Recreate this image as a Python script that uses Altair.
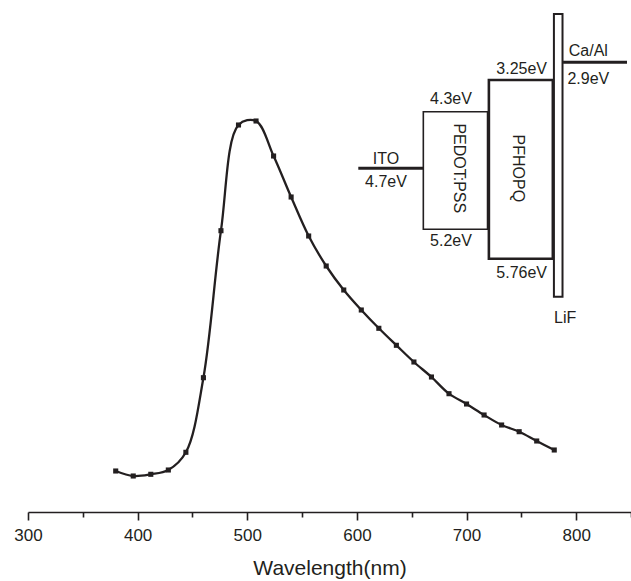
import altair as alt
import pandas as pd

# ---------------- spectrum data ----------------
wavelength = [380, 396, 412, 428, 444, 460, 476, 492, 508, 524, 540, 556, 572,
              588, 604, 620, 636, 652, 668, 684, 700, 716, 732, 748, 764, 780]
intensity = [41, 36, 37.7, 42, 59.7, 134.3, 281.3, 387, 391, 356, 315, 276, 246,
             222, 202, 183.7, 166.7, 150, 135, 118.3, 108, 97, 87, 80.3, 71, 62]

# ---------------- inset energy-level diagram ----------------
layer_names = ["ITO", "PEDOT:PSS", "PFHOPQ", "LiF", "Ca/Al"]
upper_level = [4.7, 4.3, 3.25, 2.5, 2.9]     # eV (LiF drawn schematically)
lower_level = [4.7, 5.2, 5.76, 6.2, 2.9]     # eV
level_text_upper = ["ITO", "4.3eV", "3.25eV", "", "Ca/Al"]
level_text_lower = ["4.7eV", "5.2eV", "5.76eV", "LiF", "2.9eV"]

# schematic diagram layout (0-100 diagram units across the inset)
layer_left = [0, 24.2, 48.6, 72.8, 76.2]
layer_right = [24.2, 48.1, 72.4, 76.0, 100]
label_center = [10.3, 34.5, 60.8, 77.0, 85.6]
upper_off = [-9, -13, -11, 0, -11]
lower_off = [14, 12, 14, 21, 17]
box_stroke = [3, 1.6, 2.6, 2, 3]

INK = "#231f20"
FONT = "Liberation Sans"

spec_df = pd.DataFrame({"wavelength": wavelength, "intensity": intensity})

layers_df = pd.DataFrame({
    "name": layer_names, "e1": upper_level, "e2": lower_level,
    "x": layer_left, "x2": layer_right, "sw": box_stroke,
})
lines_df = layers_df[layers_df["e1"] == layers_df["e2"]]
boxes_df = layers_df[layers_df["e1"] != layers_df["e2"]]

rot_df = pd.DataFrame({
    "x": [37.3, 59.3],
    "e": [4.7, 4.7],
    "t": ["PEDOT:PSS", "PFHOPQ"],
})

xscale_main = alt.Scale(domain=[300, 850], nice=False, zero=False)
yscale_main = alt.Scale(domain=[0, 512], nice=False, zero=False)

x_axis = alt.Axis(
    values=list(range(300, 851, 50)),
    labelExpr="datum.value % 100 === 0 ? datum.label : ''",
    tickSize={"condition": {"test": "datum.value % 100 === 0", "value": 8}, "value": 5},
    title="Wavelength(nm)",
    titleFont=FONT, titleFontSize=21, titleFontWeight="normal", titleColor=INK,
    labelFont=FONT, labelFontSize=17, labelColor=INK,
    domain=True, domainColor=INK, domainWidth=1.6, tickColor=INK, tickWidth=1.6,
    labelPadding=7, titlePadding=14, grid=False, labelFlush=False,
    labelOverlap=False,
)

base = alt.Chart(spec_df)
line = base.mark_line(interpolate="catmull-rom", color=INK, strokeWidth=2.3).encode(
    x=alt.X("wavelength:Q", scale=xscale_main, axis=x_axis),
    y=alt.Y("intensity:Q", scale=yscale_main, axis=None),
)
pts = base.mark_square(color=INK, size=26, opacity=1).encode(
    x=alt.X("wavelength:Q", scale=xscale_main, axis=x_axis),
    y=alt.Y("intensity:Q", scale=yscale_main, axis=None),
)
main = alt.layer(line, pts)

xs_inset = alt.Scale(domain=[0, 100], range=[330.3, 599], nice=False, zero=False)
ys_inset = alt.Scale(domain=[2.5, 2.9, 3.25, 4.3, 4.7, 5.2, 5.76, 6.2],
                     range=[14, 62.3, 80, 111.7, 168.3, 229.3, 258.7, 296.7],
                     nice=False, zero=False)

lvl_lines = alt.Chart(lines_df).mark_rule(color=INK, strokeWidth=3).encode(
    x=alt.X("x:Q", scale=xs_inset, axis=None),
    x2="x2:Q",
    y=alt.Y("e1:Q", scale=ys_inset, axis=None),
)
boxes = alt.Chart(boxes_df).mark_rect(fill="white", fillOpacity=0, stroke=INK).encode(
    x=alt.X("x:Q", scale=xs_inset, axis=None),
    x2="x2:Q",
    y=alt.Y("e1:Q", scale=ys_inset, axis=None),
    y2="e2:Q",
    strokeWidth=alt.StrokeWidth("sw:Q", scale=None),
)

text_layers = []
for i in range(len(layer_names)):
    for txt, lvl, off in ((level_text_upper[i], upper_level[i], upper_off[i]),
                          (level_text_lower[i], lower_level[i], lower_off[i])):
        if not txt:
            continue
        df = pd.DataFrame({"x": [label_center[i]], "e": [lvl], "t": [txt]})
        text_layers.append(
            alt.Chart(df).mark_text(font=FONT, fontSize=16, color=INK,
                                    baseline="middle", align="center", dy=off).encode(
                x=alt.X("x:Q", scale=xs_inset, axis=None),
                y=alt.Y("e:Q", scale=ys_inset, axis=None),
                text="t:N",
            )
        )

rot_texts = alt.Chart(rot_df).mark_text(font=FONT, fontSize=16, color=INK,
                                        baseline="middle", align="center", angle=90).encode(
    x=alt.X("x:Q", scale=xs_inset, axis=None),
    y=alt.Y("e:Q", scale=ys_inset, axis=None),
    text="t:N",
)
inset = alt.layer(boxes, lvl_lines, *text_layers, rot_texts)

chart = alt.layer(main, inset).resolve_scale(x="independent", y="independent").properties(
    width=603, height=512,
    padding={"left": 28, "top": 0, "right": 0, "bottom": 69},
    autosize=alt.AutoSizeParams(type="none"),
    background="white",
).configure_view(
    strokeWidth=0, stroke=None
).configure_axisY(
    domain=False, ticks=False, labels=False, grid=False
)

chart.save("out.html", embed_options={"renderer": "svg", "actions": False})
